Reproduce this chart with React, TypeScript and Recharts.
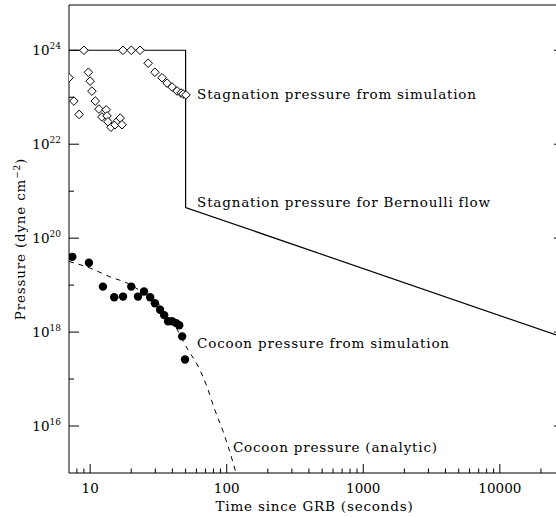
import {
  ComposedChart,
  Line,
  Scatter,
  XAxis,
  YAxis,
  ReferenceDot,
  Label,
} from 'recharts';

// time since GRB (s) and pressure (dyne cm^-2)
const stagSimT = [7.0, 7.6, 8.3, 9.0, 9.7, 10.0, 10.3, 10.9, 11.6, 12.2, 13.1, 13.3, 13.5, 14.2, 15.2, 16.0, 16.6, 17.1, 17.4, 20.0, 23.2, 26.6, 29.8, 33.6, 36.6, 39.8, 43.3, 46.3, 47.9, 50.3];
const stagSimP = [2.6e23, 8.3e22, 4.3e22, 1.0e24, 3.4e23, 2.2e23, 1.35e23, 8.3e22, 5.6e22, 3.8e22, 5.4e22, 4.0e22, 3.0e22, 2.3e22, 2.6e22, 3.2e22, 3.6e22, 2.6e22, 1.0e24, 1.0e24, 1.0e24, 5.3e23, 3.4e23, 2.6e23, 2.0e23, 1.65e23, 1.36e23, 1.23e23, 1.17e23, 1.12e23];

const bernoulliT = [7, 50, 50, 29500];
const bernoulliP = [1.0e24, 1.0e24, 4.5e20, 7.6e17];

const cocoonSimT = [7.4, 9.8, 12.4, 15.0, 17.4, 20.0, 22.4, 24.8, 27.5, 29.8, 32.5, 34.8, 37.2, 39.8, 42.6, 44.9, 47.2, 49.5];
const cocoonSimP = [4.0e19, 3.0e19, 9.3e18, 5.5e18, 5.7e18, 9.3e18, 5.7e18, 7.3e18, 5.5e18, 4.1e18, 3.0e18, 2.3e18, 1.7e18, 1.7e18, 1.55e18, 1.4e18, 8.1e17, 2.6e17];

const cocoonAnaT = [7.0, 10, 14, 19, 24, 31, 40, 52, 61, 71, 81, 96, 111, 118];
const cocoonAnaP = [3.2e19, 2.3e19, 1.5e19, 1.08e19, 7.1e18, 4.2e18, 1.7e18, 4.2e17, 2.0e17, 7.4e16, 2.4e16, 6.5e15, 1.7e15, 9.0e14];

const xTicks = [8, 9, 10, 20, 30, 40, 50, 60, 70, 80, 90, 100, 200, 300, 400, 500, 600, 700, 800, 900, 1000, 2000, 3000, 4000, 5000, 6000, 7000, 8000, 9000, 10000, 20000];
const yTicks = [1e16, 1e17, 1e18, 1e19, 1e20, 1e21, 1e22, 1e23, 1e24];

const X_DOMAIN = [7, 29500];
const Y_DOMAIN = [1e15, 9.2e24];

const FONT = '"DejaVu Serif", serif';
const INK = '#000';
const TXT = { fontFamily: FONT, fontSize: 13.5, letterSpacing: 0.8, fill: INK };

const zip = (ts: number[], ps: number[]) => ts.map((t, i) => ({ t, p: ps[i] }));

const stagSim = zip(stagSimT, stagSimP);
const bernoulli = zip(bernoulliT, bernoulliP);
const cocoonSim = zip(cocoonSimT, cocoonSimP);
const cocoonAna = zip(cocoonAnaT, cocoonAnaP);

const isDecade = (v: number) => Math.abs(Math.log10(v) - Math.round(Math.log10(v))) < 1e-6;

function BottomTick(props: any) {
  const { x, y, payload } = props;
  const major = isDecade(payload.value);
  return (
    <g>
      <line x1={x} y1={y} x2={x} y2={y - (major ? 9 : 4.5)} stroke={INK} />
      {major && (
        <text x={x} y={y + 20} textAnchor="middle" fontFamily={FONT} fontSize={13.5} fill={INK}>
          {payload.value}
        </text>
      )}
    </g>
  );
}

function TopTick(props: any) {
  const { x, y, payload } = props;
  const major = isDecade(payload.value);
  return <line x1={x} y1={y} x2={x} y2={y + (major ? 9 : 4.5)} stroke={INK} />;
}

function LeftTick(props: any) {
  const { x, y, payload } = props;
  const exp = Math.round(Math.log10(payload.value));
  const major = exp % 2 === 0;
  return (
    <g>
      <line x1={x} y1={y} x2={x + (major ? 10 : 5)} y2={y} stroke={INK} />
      {major && (
        <text x={x - 8} y={y + 5} textAnchor="end" fontFamily={FONT} fontSize={13.5} fill={INK}>
          10
          <tspan dy={-6} fontSize={9}>{exp}</tspan>
        </text>
      )}
    </g>
  );
}

function RightTick(props: any) {
  const { x, y, payload } = props;
  const exp = Math.round(Math.log10(payload.value));
  const major = exp % 2 === 0;
  return <line x1={x} y1={y} x2={x - (major ? 10 : 5)} y2={y} stroke={INK} />;
}

function Diamond(props: any) {
  const { cx, cy } = props;
  const r = 4.3;
  return (
    <polygon
      points={`${cx},${cy - r} ${cx + r},${cy} ${cx},${cy + r} ${cx - r},${cy}`}
      fill="#fff"
      stroke={INK}
      strokeWidth={1}
    />
  );
}

function Dot(props: any) {
  return <circle cx={props.cx} cy={props.cy} r={4.2} fill={INK} />;
}

const annot = (text: string) => ({
  content: (p: any) => (
    <text x={p.viewBox.x} y={p.viewBox.y} dy="0.35em" {...TXT}>
      {text}
    </text>
  ),
});

function App() {
  return (
    <div style={{ position: 'fixed', left: 0, top: 0, width: 556, height: 517, overflow: 'hidden', background: '#fff' }}>
      <ComposedChart width={566} height={517} margin={{ top: 4, right: 1, bottom: 43, left: 68 }}>
        <XAxis
          dataKey="t"
          type="number"
          scale="log"
          domain={X_DOMAIN}
          allowDataOverflow
          ticks={xTicks}
          interval={0}
          height={1}
          tickSize={0}
          tickMargin={0}
          tick={<BottomTick />}
          stroke={INK}
        >
          <Label
            content={(p: any) => (
              <text x={p.viewBox.x + p.viewBox.width / 2 - 2} y={p.viewBox.y + 38} textAnchor="middle" {...TXT}>
                Time since GRB (seconds)
              </text>
            )}
          />
        </XAxis>
        <XAxis
          xAxisId="top"
          orientation="top"
          type="number"
          scale="log"
          domain={X_DOMAIN}
          allowDataOverflow
          ticks={xTicks}
          interval={0}
          height={1}
          tickSize={0}
          tickMargin={0}
          tick={<TopTick />}
          stroke={INK}
        />
        <YAxis
          dataKey="p"
          type="number"
          scale="log"
          domain={Y_DOMAIN}
          allowDataOverflow
          ticks={yTicks}
          interval={0}
          width={1}
          tickSize={0}
          tickMargin={0}
          tick={<LeftTick />}
          stroke={INK}
        >
          <Label
            content={(p: any) => {
              const cx = p.viewBox.x - 48;
              const cy = p.viewBox.y + p.viewBox.height / 2;
              return (
                <text x={cx} y={cy} transform={`rotate(-90, ${cx}, ${cy})`} textAnchor="middle" dy="0.35em" {...TXT}>
                  Pressure (dyne cm
                  <tspan dy={-5} fontSize={9}>−2</tspan>
                  <tspan dy={5}>)</tspan>
                </text>
              );
            }}
          />
        </YAxis>
        <YAxis
          yAxisId="right"
          orientation="right"
          type="number"
          scale="log"
          domain={Y_DOMAIN}
          allowDataOverflow
          ticks={yTicks}
          interval={0}
          width={1}
          tickSize={0}
          tickMargin={0}
          tick={<RightTick />}
          stroke={INK}
        />

        <Line data={bernoulli} dataKey="p" type="linear" stroke={INK} strokeWidth={1.2} dot={false} isAnimationActive={false} />
        <Line data={cocoonAna} dataKey="p" type="monotone" stroke={INK} strokeWidth={1} strokeDasharray="5 5" dot={false} isAnimationActive={false} />
        <Scatter data={stagSim} dataKey="p" shape={<Diamond />} isAnimationActive={false} />
        <Scatter data={cocoonSim} dataKey="p" shape={<Dot />} isAnimationActive={false} />

        <ReferenceDot x={60.7} y={1.15e23} r={0} stroke="none" fill="none" label={annot('Stagnation pressure from simulation')} />
        <ReferenceDot x={60.7} y={5.9e20} r={0} stroke="none" fill="none" label={annot('Stagnation pressure for Bernoulli flow')} />
        <ReferenceDot x={60.7} y={5.9e17} r={0} stroke="none" fill="none" label={annot('Cocoon pressure from simulation')} />
        <ReferenceDot x={111} y={3.5e15} r={0} stroke="none" fill="none" label={annot('Cocoon pressure (analytic)')} />
      </ComposedChart>
    </div>
  );
}

export default App;
